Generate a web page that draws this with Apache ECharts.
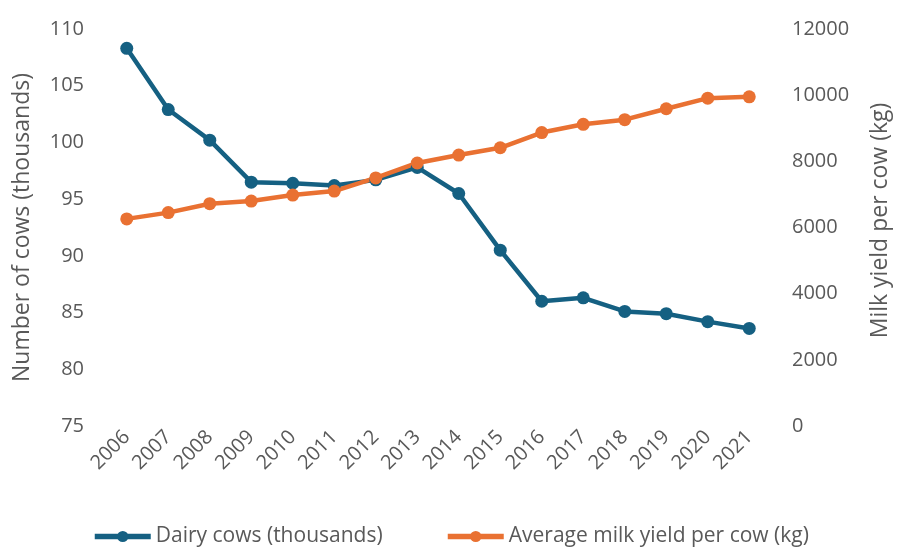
<!DOCTYPE html>
<html lang="en">
  <head>
    <meta charset="UTF-8" />
    <title>Dairy cows and milk yield</title>
    <script src="https://cdnjs.cloudflare.com/ajax/libs/echarts/6.0.0/echarts.min.js"></script>
    <style>
      html, body { margin: 0; padding: 0; background: #fff; }
      #chart { width: 900px; height: 550px; }
    </style>
  </head>
  <body>
    <div id="chart"></div>
    <script>
      // data
      const years = ["2006", "2007", "2008", "2009", "2010", "2011", "2012", "2013",
        "2014", "2015", "2016", "2017", "2018", "2019", "2020", "2021"];
      const dairyCows = [108.3, 102.9, 100.2, 96.5, 96.4, 96.2, 96.7, 97.8,
        95.5, 90.5, 86.0, 86.3, 85.1, 84.9, 84.2, 83.6];
      const milkYield = [6260, 6450, 6720, 6800, 6980, 7100, 7500, 7950,
        8190, 8410, 8870, 9120, 9260, 9590, 9910, 9950];

      const blue = "#156082";
      const orange = "#E97132";
      const textColor = "#595959";
      const font = "Open Sans";

      // one legend per series so each sits where the reference has it
      const legendItem = (name, left) => ({
        left: left,
        top: 526,
        padding: 0,
        itemWidth: 56,
        itemHeight: 14,
        itemGap: 5,
        lineStyle: { width: 5.5 },
        textStyle: { color: textColor, fontSize: 21, fontFamily: font },
        data: [name],
      });

      const chart = echarts.init(document.getElementById("chart"));
      const option = {
        animation: false,
        textStyle: { fontFamily: font },
        grid: { left: 106, right: 128, top: 29, bottom: 124, containLabel: false },
        legend: [
          legendItem("Dairy cows (thousands)", 92),
          legendItem("Average milk yield per cow (kg)", 445),
        ],
        xAxis: {
          type: "category",
          data: years,
          boundaryGap: true,
          axisLine: { show: false },
          axisTick: { show: false },
          axisLabel: { color: textColor, fontSize: 20, rotate: 45, margin: 8 },
        },
        yAxis: [
          {
            type: "value",
            min: 75,
            max: 110,
            interval: 5,
            name: "Number of cows (thousands)",
            nameLocation: "middle",
            nameGap: 72,
            nameTextStyle: { color: textColor, fontSize: 23 },
            axisLine: { show: false },
            axisTick: { show: false },
            splitLine: { show: false },
            axisLabel: { color: textColor, fontSize: 20, margin: 22 },
          },
          {
            type: "value",
            min: 0,
            max: 12000,
            interval: 2000,
            name: "Milk yield per cow (kg)",
            nameLocation: "middle",
            nameGap: 99,
            nameTextStyle: { color: textColor, fontSize: 23, padding: [0, 0, 0, 14] },
            axisLine: { show: false },
            axisTick: { show: false },
            splitLine: { show: false },
            axisLabel: {
              color: textColor,
              fontSize: 20,
              margin: 22,
              formatter: (v) => String(v),
            },
          },
        ],
        series: [
          {
            name: "Dairy cows (thousands)",
            type: "line",
            yAxisIndex: 0,
            data: dairyCows,
            symbol: "circle",
            symbolSize: 13,
            lineStyle: { color: blue, width: 4.5 },
            itemStyle: { color: blue },
          },
          {
            name: "Average milk yield per cow (kg)",
            type: "line",
            yAxisIndex: 1,
            data: milkYield,
            symbol: "circle",
            symbolSize: 13,
            lineStyle: { color: orange, width: 4.5 },
            itemStyle: { color: orange },
          },
        ],
      };
      chart.setOption(option);
    </script>
  </body>
</html>
